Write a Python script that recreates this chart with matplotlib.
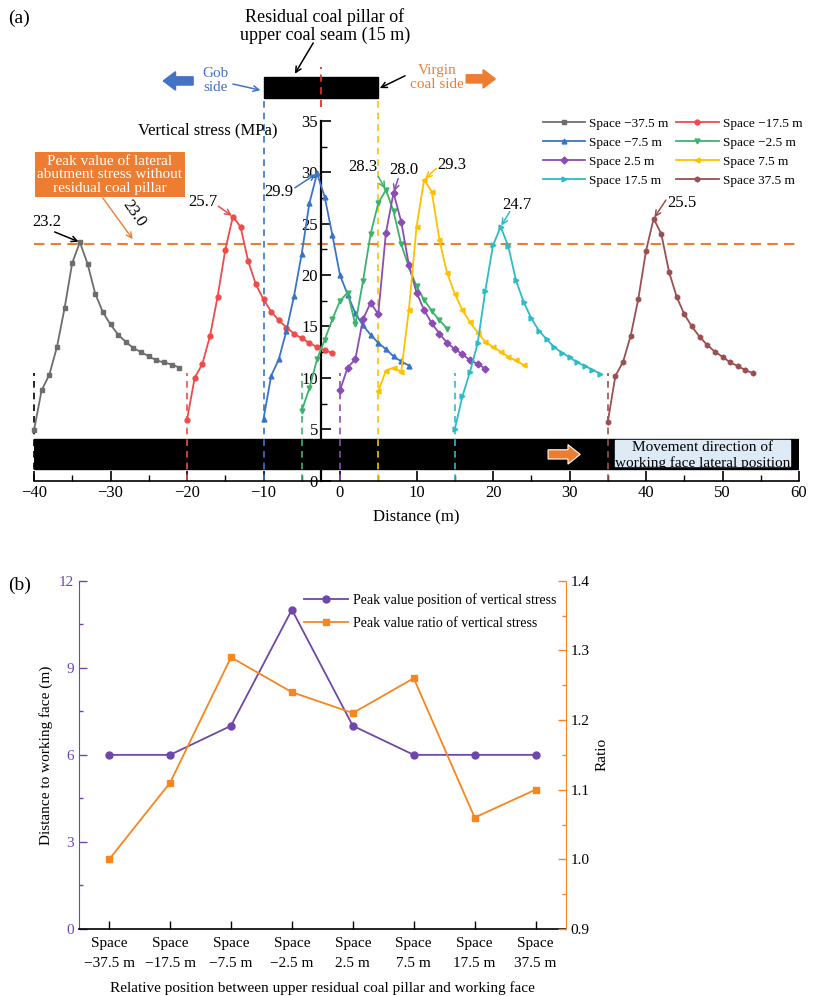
import numpy as np
import matplotlib
matplotlib.use('Agg')
import matplotlib.pyplot as plt
from matplotlib.patches import Rectangle, FancyArrow
from matplotlib.ticker import MultipleLocator

plt.rcParams['font.family'] = ['Liberation Serif', 'DejaVu Serif']
plt.rcParams['axes.unicode_minus'] = True

# ---- panel (a) data: vertical stress curves, 1 m spacing from each start ----
starts = [-40, -20, -10, -5, 0, 5, 15, 35]
labels = ['Space \u221237.5 m', 'Space \u221217.5 m', 'Space \u22127.5 m', 'Space \u22122.5 m',
          'Space 2.5 m', 'Space 7.5 m', 'Space 17.5 m', 'Space 37.5 m']
s_m375 = [4.9, 8.8, 10.3, 13.0, 16.8, 21.2, 23.2, 21.1, 18.2, 16.4, 15.2, 14.2, 13.5, 12.9, 12.5, 12.1, 11.7, 11.5, 11.3, 11.0]
s_m175 = [5.9, 10.0, 11.35, 14.05, 17.9, 22.45, 25.7, 24.7, 21.35, 19.1, 17.65, 16.45, 15.6, 14.9, 14.3, 13.85, 13.4, 13.0, 12.7, 12.4]
s_m75 = [6.0, 10.2, 11.8, 14.6, 18.0, 22.1, 27.0, 29.9, 27.6, 23.9, 20.0, 18.1, 16.3, 15.1, 14.2, 13.4, 12.8, 12.1, 11.6, 11.2]
s_m25 = [6.8, 9.0, 11.8, 13.7, 15.7, 17.5, 18.3, 15.2, 19.4, 24.0, 27.0, 28.3, 26.2, 23.0, 20.8, 18.9, 17.6, 16.5, 15.6, 14.8]
s_p25 = [8.8, 11.0, 11.8, 15.7, 17.3, 16.2, 24.1, 28.0, 25.2, 21.0, 18.3, 16.6, 15.3, 14.3, 13.4, 12.8, 12.3, 11.7, 11.35, 10.9]
s_p75 = [8.7, 10.7, 11.0, 10.6, 16.6, 24.7, 29.3, 28.1, 23.4, 20.2, 18.2, 16.6, 15.4, 14.4, 13.5, 13.0, 12.55, 12.05, 11.7, 11.25]
s_p175 = [5.0, 8.2, 10.6, 13.4, 18.5, 22.9, 24.7, 22.8, 19.5, 17.4, 15.8, 14.6, 13.75, 13.0, 12.45, 12.0, 11.5, 11.15, 10.8, 10.4]
s_p375 = [5.7, 10.2, 11.55, 14.1, 17.7, 22.35, 25.5, 24.0, 20.35, 17.9, 16.2, 15.0, 14.0, 13.2, 12.55, 12.05, 11.5, 11.15, 10.75, 10.45]
series = [s_m375, s_m175, s_m75, s_m25, s_p25, s_p75, s_p175, s_p375]
colors = ['#6d6d6d', '#ef4b4b', '#3b74c6', '#3bb46b', '#8a4db3', '#ffc000', '#2cbcc8', '#9a4f50']
markers = ['s', 'o', '^', 'v', 'D', '<', '>', 'h']
dash_colors = ['black', '#ef4b4b', '#3b74c6', '#3bb46b', '#8a4db3', '#ffc000', '#2cbcc8', '#9a4f50']

# peak labels (value, peak x, text x, text y)
peak_vals = ['23.2', '25.7', '29.9', '28.3', '28.0', '29.3', '24.7', '25.5']
peak_x = [-34, -14, -3, 6, 7, 11, 21, 41]
peak_y = [23.2, 25.7, 29.9, 28.3, 28.0, 29.3, 24.7, 25.5]
text_x = [-38.3, -17.9, -8.0, 3.0, 8.4, 14.6, 23.1, 44.7]
text_y = [25.2, 27.1, 28.1, 30.5, 30.2, 30.7, 26.8, 27.0]
arrow_from = [(-37.3, 24.2), (-15.9, 26.7), (-5.9, 28.5), (5.0, 29.6), (7.6, 29.4),
              (12.6, 30.4), (22.2, 26.2), (42.6, 27.3)]
arrow_colors = ['black', '#ef4b4b', '#3b74c6', '#3bb46b', '#8a4db3', '#ffc000', '#2cbcc8', '#9a4f50']

ref_peak = 23.0

# ---- panel (b) data ----
cats = ['Space\n\u221237.5 m', 'Space\n\u221217.5 m', 'Space\n\u22127.5 m', 'Space\n\u22122.5 m',
        'Space\n2.5 m', 'Space\n7.5 m', 'Space\n17.5 m', 'Space\n37.5 m']
peak_pos = [6, 6, 7, 11, 7, 6, 6, 6]
peak_ratio = [1.00, 1.11, 1.29, 1.24, 1.21, 1.26, 1.06, 1.10]

W, H = 814, 996
fig = plt.figure(figsize=(W / 100, H / 100), dpi=100)

# ================= panel (a) =================
ax = fig.add_axes([34 / W, (H - 480.6) / H, (799 - 34) / W, (480.6 - 121) / H])
ax.set_xlim(-40, 60)
ax.set_ylim(0, 35)
for sp in ['top', 'right']:
    ax.spines[sp].set_visible(False)
ax.spines['left'].set_position(('data', -2.5))
ax.spines['left'].set_linewidth(1.6)
ax.spines['bottom'].set_linewidth(1.2)
ax.xaxis.set_major_locator(MultipleLocator(10))
ax.xaxis.set_minor_locator(MultipleLocator(5))
ax.yaxis.set_major_locator(MultipleLocator(5))
ax.yaxis.set_minor_locator(MultipleLocator(2.5))
ax.tick_params(axis='both', which='major', direction='in', length=7, width=1.2, labelsize=12)
ax.tick_params(axis='both', which='minor', direction='in', length=4, width=1.0)
ax.tick_params(axis='y', pad=2)
ax.set_xlabel('Distance (m)', fontsize=12, labelpad=6)

# working face bar
ax.add_patch(Rectangle((-40, 1.15), 100, 2.9, facecolor='black', edgecolor='black', zorder=1))
ax.add_patch(FancyArrow(27.2, 2.55, 4.2, 0, width=0.9, head_width=1.9, head_length=1.6,
                        length_includes_head=True, facecolor='#ed7d31', edgecolor='white',
                        linewidth=0.8, zorder=3))
box = Rectangle((35.9, 1.4), 22.9, 2.6, facecolor='#deebf7', edgecolor='#deebf7', zorder=3)
ax.add_patch(box)
ax.text(47.35, 3.2, 'Movement direction of', ha='center', va='center', fontsize=11, zorder=4)
t2 = ax.text(47.35, 1.75, 'working face lateral position', ha='center', va='center', fontsize=11, zorder=4)
t2.set_clip_path(box)

# vertical dashed lines
for st, dc in zip(starts, dash_colors):
    top = 37.25 if st in (-10, 5) else 10.5
    ax.plot([st, st], [0, top], ls=(0, (4, 3)), color=dc, lw=1.2, zorder=2, clip_on=False)

# reference peak line
ax.plot([-40, 60], [ref_peak, ref_peak], ls=(0, (5, 3)), color='#ed7d31', lw=1.5, zorder=2)

# stress curves
handles = []
for st, ys, c, m, lab in zip(starts, series, colors, markers, labels):
    xs = st + np.arange(len(ys))
    h, = ax.plot(xs, ys, color=c, marker=m, ms=3.5, lw=1.3, label=lab, zorder=5, clip_on=False)
    handles.append(h)

for v, px, py, tx, ty, af, ac in zip(peak_vals, peak_x, peak_y, text_x, text_y, arrow_from, arrow_colors):
    ax.text(tx, ty, v, fontsize=12, ha='center', va='center', zorder=6)
    ax.annotate('', xy=(px, py), xytext=af, annotation_clip=False,
                arrowprops=dict(arrowstyle='->', color=ac, lw=1.1, shrinkA=0, shrinkB=1))

ax.text(-17.3, 34.1, 'Vertical stress (MPa)', fontsize=12, ha='center', va='center')

# orange box about reference peak
ax.add_patch(Rectangle((-39.9, 27.6), 19.6, 4.4, facecolor='#ed7d31', edgecolor='none', zorder=6))
ax.text(-30.1, 31.05, 'Peak value of lateral', color='white', fontsize=11, ha='center', va='center', zorder=7)
ax.text(-30.1, 29.75, 'abutment stress without', color='white', fontsize=11, ha='center', va='center', zorder=7)
ax.text(-30.1, 28.45, 'residual coal pillar', color='white', fontsize=11, ha='center', va='center', zorder=7)
ax.annotate('', xy=(-27.1, 23.5), xytext=(-31.0, 27.5), annotation_clip=False,
            arrowprops=dict(arrowstyle='->', color='#ed7d31', lw=1.0, shrinkA=0, shrinkB=0))
ax.text(-27.0, 26.0, '23.0', rotation=-55, fontsize=12, ha='center', va='center')

# residual coal pillar on top
ax.add_patch(Rectangle((-10, 37.25), 15, 2.05, facecolor='black', edgecolor='black', clip_on=False))
ax.plot([-2.5, -2.5], [36.4, 40.3], ls=(0, (4, 3)), color='#e0302a', lw=1.3, clip_on=False, zorder=6)
ax.text(-2.0, 45.1, 'Residual coal pillar of', fontsize=13, ha='center', va='center')
ax.text(-2.0, 43.3, 'upper coal seam (15 m)', fontsize=13, ha='center', va='center')
ax.annotate('', xy=(-5.9, 39.6), xytext=(-3.5, 42.6), annotation_clip=False,
            arrowprops=dict(arrowstyle='->', color='black', lw=1.1, shrinkA=0, shrinkB=0))
ax.text(-16.3, 38.9, 'Gob\nside', color='#4472c4', fontsize=11, ha='center', va='center', linespacing=1.1)
ax.annotate('', xy=(-10.4, 38.0), xytext=(-14.0, 38.6), annotation_clip=False,
            arrowprops=dict(arrowstyle='->', color='#4472c4', lw=1.1, shrinkA=0, shrinkB=0))
ax.text(12.7, 39.2, 'Virgin\ncoal side', color='#ed7d31', fontsize=11, ha='center', va='center', linespacing=1.1)
ax.annotate('', xy=(5.2, 38.2), xytext=(8.5, 39.4), annotation_clip=False,
            arrowprops=dict(arrowstyle='->', color='black', lw=1.1, shrinkA=0, shrinkB=0))
ax.add_patch(FancyArrow(-19.2, 38.9, -3.9, 0, width=0.8, head_width=1.8, head_length=1.6,
                        length_includes_head=True, color='#4472c4', clip_on=False))
ax.add_patch(FancyArrow(16.5, 39.1, 3.8, 0, width=0.8, head_width=1.8, head_length=1.6,
                        length_includes_head=True, color='#ed7d31', clip_on=False))

order = [0, 2, 4, 6, 1, 3, 5, 7]
ax.legend([handles[i] for i in order], [labels[i] for i in order], ncol=2, frameon=False,
          fontsize=9.5, handlelength=3.2, columnspacing=0.6, handletextpad=0.3,
          labelspacing=0.5, loc='upper right', bbox_to_anchor=(814 / W, (H - 106) / H),
          bbox_transform=fig.transFigure)

fig.text(8 / W, (H - 18) / H, '(a)', fontsize=14, va='center')

# ================= panel (b) =================
purple = '#6f47ab'
orange = '#f7861f'
bx = fig.add_axes([78.7 / W, (H - 929) / H, (566 - 78.7) / W, (929 - 580.7) / H])
pos = np.arange(len(cats))
l1, = bx.plot(pos, peak_pos, color=purple, marker='o', ms=5, lw=1.3,
              label='Peak value position of vertical stress')
bx.set_xlim(-0.5, 7.5)
bx.set_ylim(0, 12)
bx.yaxis.set_major_locator(MultipleLocator(3))
bx.yaxis.set_minor_locator(MultipleLocator(1.5))
bx.set_xticks(pos)
bx.set_xticklabels(cats, fontsize=11, linespacing=1.7)
bx.tick_params(axis='x', direction='in', length=6, width=1.0, pad=6)
bx.tick_params(axis='y', which='major', direction='in', length=6, width=1.0, colors=purple, labelsize=11)
bx.tick_params(axis='y', which='minor', direction='in', length=3, width=1.0, colors=purple)
bx.spines['left'].set_color(purple)
bx.spines['top'].set_visible(False)
bx.spines['right'].set_visible(False)
bx.spines['bottom'].set_linewidth(1.2)
bx.set_ylabel('Distance to working face (m)', fontsize=11, labelpad=4)
bx.set_xlabel('Relative position between upper residual coal pillar and working face', fontsize=11, labelpad=8)

rx = bx.twinx()
l2, = rx.plot(pos, peak_ratio, color=orange, marker='s', ms=5, lw=1.3,
              label='Peak value ratio of vertical stress')
rx.set_ylim(0.9, 1.4)
rx.yaxis.set_major_locator(MultipleLocator(0.1))
rx.yaxis.set_minor_locator(MultipleLocator(0.05))
rx.yaxis.set_major_formatter(matplotlib.ticker.FormatStrFormatter('%.1f'))
rx.tick_params(axis='y', which='major', direction='in', length=6, width=1.0, color=orange, labelsize=11)
rx.tick_params(axis='y', which='minor', direction='in', length=3, width=1.0, color=orange)
for sp in ['left', 'top', 'bottom']:
    rx.spines[sp].set_visible(False)
rx.spines['right'].set_color(orange)
rx.set_ylabel('Ratio', fontsize=11, labelpad=4)

bx.legend([l1, l2], [l1.get_label(), l2.get_label()], frameon=False, fontsize=10,
          loc='upper right', bbox_to_anchor=(1.005, 1.0), handlelength=3.2, handletextpad=0.3,
          labelspacing=0.7)

fig.text(8 / W, (H - 585) / H, '(b)', fontsize=14, va='center')

fig.savefig('out.png', dpi=100)
